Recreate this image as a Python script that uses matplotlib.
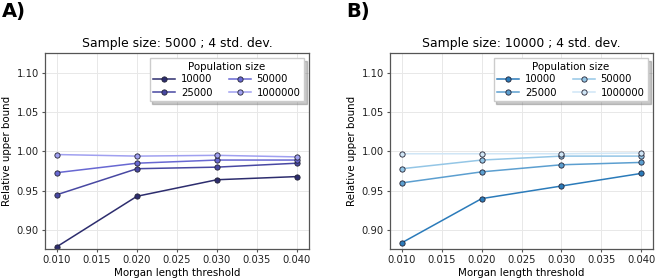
import matplotlib
matplotlib.use('Agg')
import matplotlib.pyplot as plt

thresholds = [0.010, 0.020, 0.030, 0.040]
pop_sizes = ['10000', '25000', '50000', '1000000']

# relative upper bound, sample size 5000
ub_5000 = {
    '10000':   [0.879, 0.943, 0.964, 0.968],
    '25000':   [0.945, 0.978, 0.980, 0.985],
    '50000':   [0.973, 0.985, 0.989, 0.989],
    '1000000': [0.996, 0.994, 0.995, 0.993],
}
# relative upper bound, sample size 10000
ub_10000 = {
    '10000':   [0.884, 0.940, 0.956, 0.972],
    '25000':   [0.960, 0.974, 0.983, 0.986],
    '50000':   [0.978, 0.989, 0.994, 0.994],
    '1000000': [0.997, 0.997, 0.997, 0.998],
}

colors_a = ['#2d2d6e', '#4848a2', '#6868d2', '#a0a0f0']
colors_b = ['#2b7bba', '#5c9fd0', '#94c6e6', '#d0e6f6']


def draw_panel(ax, data, colors, title):
    for pop, c in zip(pop_sizes, colors):
        ax.plot(thresholds, data[pop], color=c, linewidth=1.1, marker='o',
                markersize=3.8, markeredgecolor='#222233', markeredgewidth=0.6,
                markerfacecolor=c, label=pop)
    ax.set_title(title, fontsize=8.9, pad=4)
    ax.set_xlabel('Morgan length threshold', fontsize=7.4, labelpad=2)
    ax.set_ylabel('Relative upper bound', fontsize=7.4, labelpad=3)
    ax.set_ylim(0.876, 1.125)
    ax.set_yticks([0.90, 0.95, 1.00, 1.05, 1.10])
    ax.set_xticks([0.010, 0.015, 0.020, 0.025, 0.030, 0.035, 0.040])
    ax.xaxis.set_major_formatter(matplotlib.ticker.StrMethodFormatter('{x:.3f}'))
    ax.yaxis.set_major_formatter(matplotlib.ticker.StrMethodFormatter('{x:.2f}'))
    ax.tick_params(labelsize=7.2, length=2.5, color='#555555', pad=2, labelcolor='#222222')
    ax.grid(True, color='#e8e8e8', linewidth=0.7)
    ax.set_axisbelow(True)
    for s in ax.spines.values():
        s.set_color('#555555')
        s.set_linewidth(0.9)
    leg = ax.legend(title='Population size', ncol=2, loc='upper right',
                    fontsize=7.2, title_fontsize=7.4, shadow={'alpha': 0.3}, framealpha=1,
                    handlelength=2.2, columnspacing=1.6, labelspacing=0.3,
                    borderpad=0.35, handletextpad=0.6, fancybox=False)
    leg.get_frame().set_edgecolor('#cccccc')


fig = plt.figure(figsize=(6.58, 2.8), dpi=100)
ax1 = fig.add_axes([45/658, 31/280, 264/658, 196/280])
ax2 = fig.add_axes([390/658, 31/280, 263/658, 196/280])

draw_panel(ax1, ub_5000, colors_a, 'Sample size: 5000 ; 4 std. dev.')
draw_panel(ax2, ub_10000, colors_b, 'Sample size: 10000 ; 4 std. dev.')

fig.text(2/658, 1 - 12/280, 'A)', fontsize=14, fontweight='bold', va='center', ha='left')
fig.text(346/658, 1 - 12/280, 'B)', fontsize=14, fontweight='bold', va='center', ha='left')

fig.savefig('out.png', dpi=100)
